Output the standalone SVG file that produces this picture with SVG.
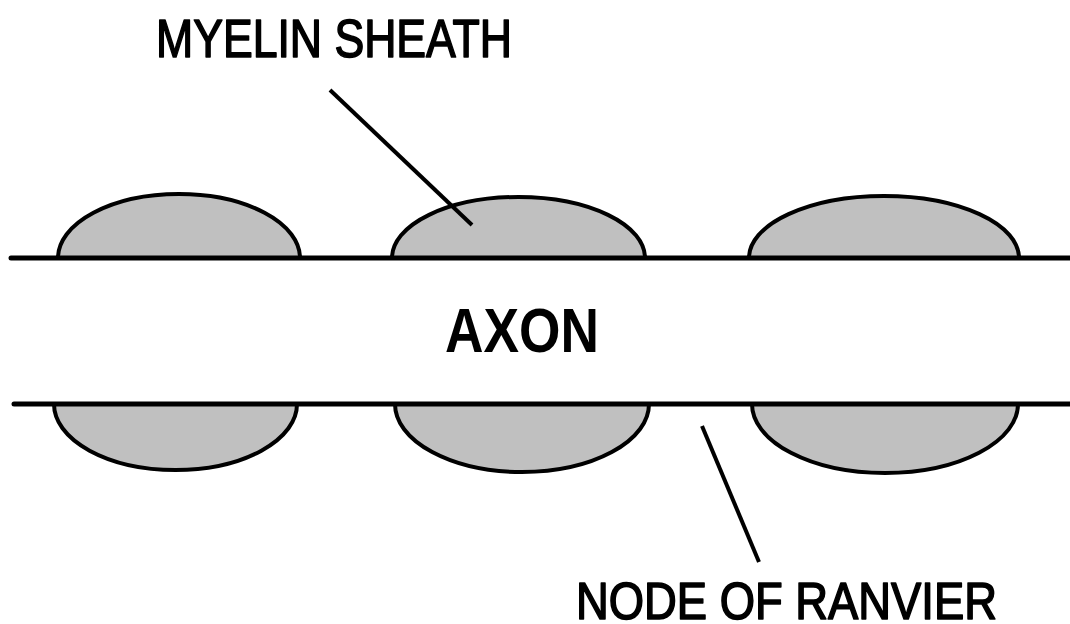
<svg xmlns="http://www.w3.org/2000/svg" width="1070" height="624" viewBox="0 0 1070 624">
  <style>
    .sheath { fill: #c0c0c0; stroke: #000; stroke-width: 4; }
    .membrane { stroke: #000; stroke-width: 5; stroke-linecap: round; fill: none; }
    .leader { stroke: #000; stroke-width: 4; fill: none; }
    .label { font-family: "Liberation Sans", Arial, sans-serif; fill: #000; }
    .caption { stroke: #000; stroke-width: 1.6; stroke-linejoin: round; }
  </style>
  <rect width="1070" height="624" fill="#fff"/>

  <!-- myelin sheath segments, upper side -->
  <g id="sheath-top-1"><path class="sheath" d="M58 258 A121 64 0 0 1 300 258 Z"/></g>
  <g id="sheath-top-2"><path class="sheath" d="M392 258 A126.5 61 0 0 1 645 258 Z"/></g>
  <g id="sheath-top-3"><path class="sheath" d="M749 258 A135 62 0 0 1 1019 258 Z"/></g>

  <!-- myelin sheath segments, lower side -->
  <g id="sheath-bottom-1"><path class="sheath" d="M54 404 A121.5 66 0 0 0 297 404 Z"/></g>
  <g id="sheath-bottom-2"><path class="sheath" d="M395 404 A127 68 0 0 0 649 404 Z"/></g>
  <g id="sheath-bottom-3"><path class="sheath" d="M752 404 A133 69 0 0 0 1018 404 Z"/></g>

  <!-- axon membrane -->
  <g id="axon">
    <line class="membrane" x1="11" y1="258" x2="1072" y2="258"/>
    <line class="membrane" x1="14" y1="404" x2="1072" y2="404"/>
    <text class="label" x="445" y="352" font-size="63" font-weight="bold" textLength="154" lengthAdjust="spacingAndGlyphs">AXON</text>
  </g>

  <!-- leader lines -->
  <g id="connectors">
    <line class="leader" x1="330" y1="90" x2="472" y2="225"/>
    <line class="leader" x1="702" y1="426" x2="759" y2="562"/>
  </g>

  <g id="label-myelin">
    <text class="label caption" x="156" y="57" font-size="53" textLength="356" lengthAdjust="spacingAndGlyphs">MYELIN SHEATH</text>
  </g>
  <g id="label-node">
    <text class="label caption" x="576" y="619" font-size="51" textLength="421" lengthAdjust="spacingAndGlyphs">NODE OF RANVIER</text>
  </g>
</svg>
